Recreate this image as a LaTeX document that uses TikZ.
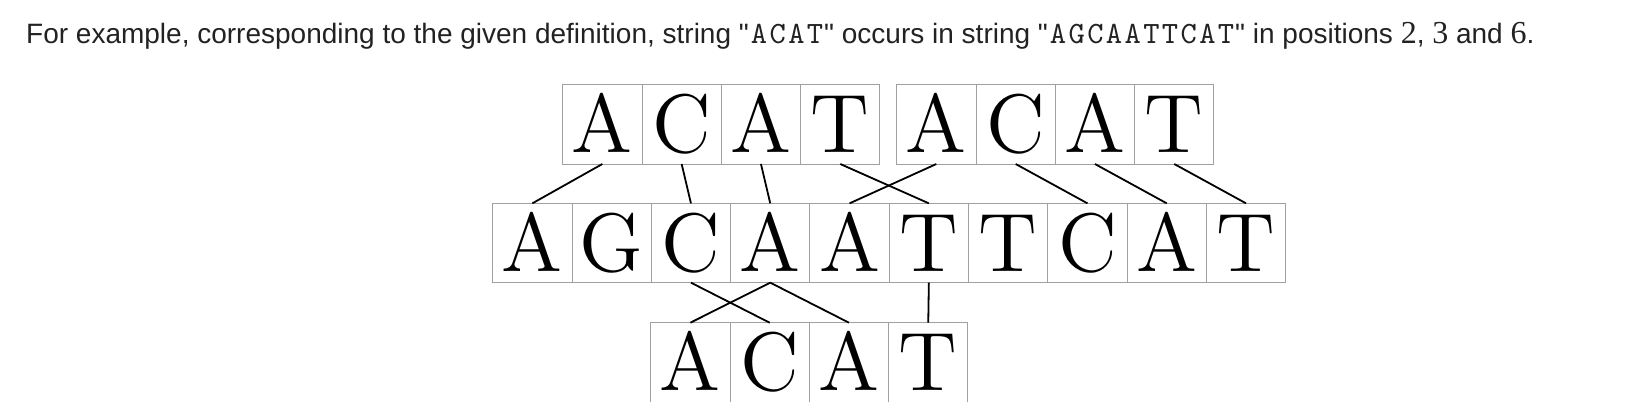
\documentclass[tikz,border=0pt]{standalone}
\usepackage{fontspec}
\newfontfamily\capfont{Liberation Sans}
\newfontfamily\seriff{Liberation Serif}
\newfontfamily\codefont{lmmono10-regular.otf}[LetterSpace=7.7]
\newfontfamily\cellfont{lmroman12-regular.otf}
\definecolor{txt}{RGB}{34,34,34}
\definecolor{edgec}{RGB}{160,160,160}
\begin{document}
\begin{tikzpicture}[x=1pt,y=-1pt,
  cellbox/.style={draw=edgec, line width=1pt, minimum width=79.3pt, minimum height=79.3pt,
    inner sep=0pt, outer sep=0pt, text height=56.7pt, text depth=0pt,
    font=\cellfont\fontsize{83}{83}\selectfont},
  openbox/.style={cellbox, draw=none},
  edgeline/.style={draw=edgec, line width=1pt},
  link/.style={draw=black, line width=1.8pt}]
\useasboundingbox (0,0) rectangle (1642,410);
% caption
\node[anchor=base west, inner sep=0pt, text=txt, font=\capfont\fontsize{28}{29}\selectfont] (cap) at (26,43.3)
  {For example, corresponding to the given definition, string "\hspace{2pt}{\codefont\fontsize{31}{31}\selectfont ACAT}\hspace{1pt}" occurs in string "\hspace{2pt}{\codefont\fontsize{31}{31}\selectfont AGCAATTCAT}\hspace{1pt}" in positions {\seriff\fontsize{32}{32}\selectfont 2}, {\seriff\fontsize{32}{32}\selectfont 3} and {\seriff\fontsize{32}{32}\selectfont 6}.};
% top row, first ACAT
\foreach \i/\l in {1/A,2/C,3/A,4/T}
  \node[cellbox] (t\i) at ({562.7+79.3*(\i-0.5)},124.35) {\l};
% top row, second ACAT
\foreach \i/\l in {1/A,2/C,3/A,4/T}
  \node[cellbox] (u\i) at ({896.7+79.3*(\i-0.5)},124.35) {\l};
% middle row
\foreach \i/\l in {1/A,2/G,3/C,4/A,5/A,6/T,7/T,8/C,9/A,10/T}
  \node[cellbox] (m\i) at ({492.7+79.3*(\i-0.5)},243) {\l};
% bottom row (open at the bottom)
\foreach \i/\l in {1/A,2/C,3/A,4/T}{
  \node[openbox] (b\i) at ({650.7+79.3*(\i-0.5)},362.35) {\l};
  \draw[edgeline] (b\i.south west) -- (b\i.north west) -- (b\i.north east) -- (b\i.south east);
}
% links top -> middle
\draw[link] (t1.south) -- (m1.north);
\draw[link] (t2.south) -- (m3.north);
\draw[link] (t3.south) -- (m4.north);
\draw[link] (t4.south) -- (m6.north);
\draw[link] (u1.south) -- (m5.north);
\draw[link] (u2.south) -- (m8.north);
\draw[link] (u3.south) -- (m9.north);
\draw[link] (u4.south) -- (m10.north);
% links middle -> bottom
\draw[link] (m3.south) -- (b2.north);
\draw[link] (m4.south) -- (b1.north);
\draw[link] (m4.south) -- (b3.north);
\draw[link] (m6.south) -- (b4.north);
\end{tikzpicture}
\end{document}
